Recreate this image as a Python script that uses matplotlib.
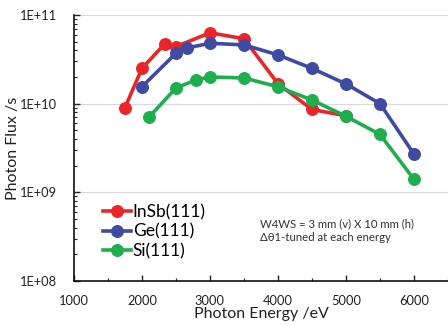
import numpy as np
import matplotlib
matplotlib.use("Agg")
import matplotlib.pyplot as plt
from matplotlib.ticker import LogLocator, MultipleLocator, FixedLocator, NullFormatter

plt.rcParams['font.family'] = ['Lato', 'DejaVu Sans']

# data
insb_e = [1750, 2000, 2333, 2500, 3000, 3500, 4000, 4500, 5000]
insb_flux = [9.0e9, 2.5e10, 4.7e10, 4.4e10, 6.3e10, 5.4e10, 1.68e10, 8.6e9, 7.3e9]

ge_e = [2000, 2500, 2667, 3000, 3500, 4000, 4500, 5000, 5500, 6000]
ge_flux = [1.55e10, 3.7e10, 4.25e10, 4.8e10, 4.6e10, 3.55e10, 2.5e10, 1.67e10, 1.0e10, 2.7e9]

si_e = [2100, 2500, 2800, 3000, 3500, 4000, 4500, 5000, 5500, 6000]
si_flux = [7.0e9, 1.5e10, 1.86e10, 2.0e10, 1.95e10, 1.55e10, 1.1e10, 7.2e9, 4.5e9, 1.4e9]

series = [("InSb(111)", insb_e, insb_flux, "#e8262a"),
          ("Ge(111)", ge_e, ge_flux, "#3f4aa3"),
          ("Si(111)", si_e, si_flux, "#1eae4e")]

fig = plt.figure(figsize=(4.48, 3.26), dpi=100)
ax = fig.add_axes([0.165, 0.138, 0.835, 0.816])

for name, x, y, c in series:
    ax.plot(x, y, '-o', color=c, lw=2.6, ms=8.5, mec=c, mew=0.8, label=name)

ax.set_yscale('log')
ax.set_ylim(1e8, 1e11)
ax.set_xlim(1000, 6500)
ax.xaxis.set_major_locator(FixedLocator([1000, 2000, 3000, 4000, 5000, 6000]))
ax.xaxis.set_minor_locator(MultipleLocator(500))
ax.yaxis.set_major_locator(LogLocator(base=10, numticks=10))
ax.yaxis.set_minor_locator(LogLocator(base=10, subs=np.arange(2, 10), numticks=10))
ax.yaxis.set_minor_formatter(NullFormatter())
ax.yaxis.set_major_formatter(plt.FuncFormatter(lambda v, p: "1E+%02d" % int(round(np.log10(v)))))

ax.tick_params(axis='both', which='both', direction='in', labelsize=9.3, colors='#222222')
ax.tick_params(axis='both', which='major', length=4, width=1)
ax.tick_params(axis='both', which='minor', length=2.5, width=0.8)
ax.tick_params(axis='x', pad=10)
ax.tick_params(axis='y', pad=12)

ax.grid(True, which='major', axis='y', color='#d9d9d9', lw=0.8)
ax.set_axisbelow(True)
for s in ['top', 'right']:
    ax.spines[s].set_visible(False)
for s in ['left', 'bottom']:
    ax.spines[s].set_color('#111111')
    ax.spines[s].set_linewidth(1.2)

ax.set_xlabel("Photon Energy /eV", fontsize=11.5, color='#222222', labelpad=0)
ax.set_ylabel("Photon Flux /s", fontsize=11.5, color='#222222')
ax.yaxis.set_label_coords(-0.145, 0.5)

ax.legend(loc='upper left', bbox_to_anchor=(0.06, 0.315), frameon=False, fontsize=12.5,
          handlelength=1.6, handletextpad=0.1, labelspacing=0.2, borderaxespad=0)

ax.text(0.497, 0.235, "W4WS = 3 mm (v) X 10 mm (h)\n\u0394\u03b81-tuned at each energy",
        transform=ax.transAxes, fontsize=8.2, color='#333333', va='top', linespacing=1.25)

fig.savefig("out.png", dpi=100)
